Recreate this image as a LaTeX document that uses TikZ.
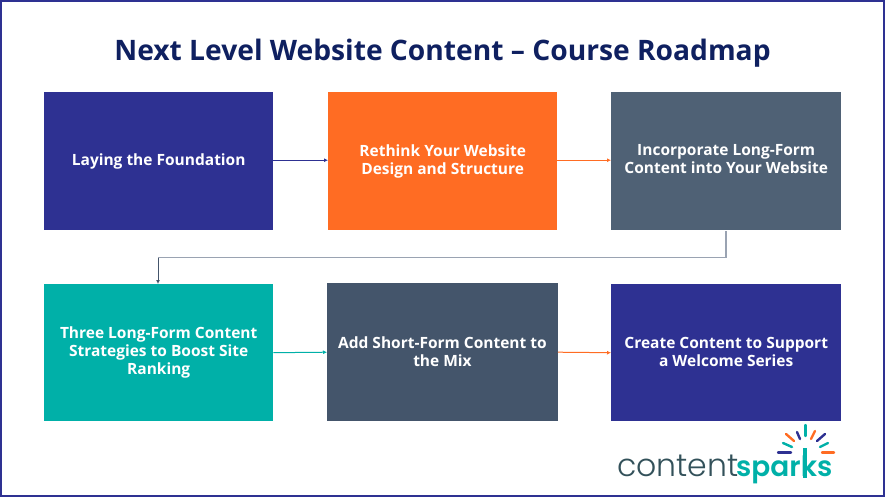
\documentclass[tikz,border=0pt]{standalone}
\usepackage{fontspec}
\setmainfont{Open Sans}[BoldFont={* Bold}]
\newfontfamily\logolight[UprightFont={* Light}]{Poppins}
\newfontfamily\logobold[UprightFont={* SemiBold}]{Poppins}
\usetikzlibrary{arrows.meta,positioning}
\definecolor{navy}{HTML}{2E3192}
\definecolor{titlecol}{HTML}{0F2060}
\definecolor{orangec}{HTML}{FF6C23}
\definecolor{slatea}{HTML}{4F6175}
\definecolor{slateb}{HTML}{44556B}
\definecolor{tealc}{HTML}{00B0A8}
\definecolor{logogray}{HTML}{33515A}
\definecolor{linegray}{HTML}{9AA3B2}
\tikzset{x=1pt,y=-1pt,
  card/.style={minimum width=#1,minimum height=138pt,inner sep=4pt,align=center,text=white,font=\bfseries\fontsize{15.5}{18}\selectfont,anchor=north west},
  conn/.style={draw=#1,line width=1pt,-{Latex[length=4pt,width=4pt]}},
  ray/.style={line width=2.4pt,draw=#1,line cap=round}}
\begin{document}
\begin{tikzpicture}
\useasboundingbox (0,0) rectangle (885,497);
\draw[navy,line width=2.5pt] (1.2,1.2) rectangle (883.8,495.8);
\node[font=\bfseries\fontsize{28.2}{32}\selectfont,text=titlecol] (title) at (442.5,53.5) {Next Level Website Content – Course Roadmap};
\node[card=229pt,fill=navy] (a) at (44,92) {Laying the Foundation};
\node[card=229pt,fill=orangec] (b) at (328,92) {Rethink Your Website\\Design and Structure};
\node[card=230pt,fill=slatea] (c) at (611,92) {Incorporate Long-Form\\Content into Your Website\\[-14pt]\null};
\node[card=229pt,minimum height=137pt,fill=tealc] (d) at (44,284) {Three Long-Form Content\\Strategies to Boost Site\\Ranking};
\node[card=230.5pt,fill=slateb] (e) at (327,283) {Add Short-Form Content to\\the Mix\\[-16pt]\null};
\node[card=230pt,minimum height=137pt,fill=navy] (f) at (611,284) {Create Content to Support\\a Welcome Series\\[-16pt]\null};
\coordinate (aout) at ([yshift=1pt]a.east);
\coordinate (bin) at ([yshift=1pt]b.west);
\coordinate (bout) at ([yshift=1pt]b.east);
\coordinate (cin) at ([yshift=1pt]c.west);
\draw[conn=navy] (aout) -- (bin);
\draw[conn=orangec] (bout) -- (cin);
\draw[conn=tealc] (d.east) -- (e.west);
\draw[conn=orangec] (e.east) -- (f.west);
\coordinate (cout) at (726,231);
\coordinate (din) at (158,284);
\draw[draw=linegray,line width=1.3pt] (cout) -- (726,257.5) -- (158,257.5);
\draw[draw=slateb,line width=0.9pt,-{Latex[length=4pt,width=4pt]}] (158,257.5) -- (din);
% logo
\node[anchor=base west,inner sep=0,text=logogray,font=\logolight\fontsize{31.5}{32}\selectfont] (l1) at (617,476) {content};
\node[anchor=base west,inner sep=0,text=tealc,font=\logobold\fontsize{28}{32}\selectfont] (l2) at (736,476) {sparks};
\draw[tealc,line width=4pt] (805,448) -- (805,478);
\draw[ray=tealc] (805.5,425) -- (805.5,436);
\draw[ray=orangec] (786,434) -- (794,441);
\draw[ray=navy] (797,432) -- (800,439);
\draw[ray=orangec] (815,431) -- (811,439);
\draw[ray=navy] (825,434) -- (817,441);
\draw[ray=tealc] (783,443) -- (792,447);
\draw[ray=tealc] (828,443) -- (820,447);
\draw[ray=navy] (778,452.5) -- (791,452.5);
\draw[ray=orangec] (822,452.5) -- (834,452.5);
\end{tikzpicture}
\end{document}
